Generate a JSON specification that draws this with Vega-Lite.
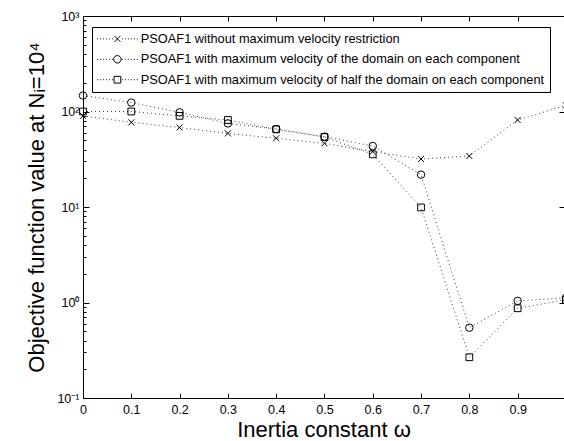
{
  "$schema": "https://vega.github.io/schema/vega-lite/v6.json",
  "width": 481,
  "height": 382,
  "autosize": {"type": "none"},
  "padding": {"left": 83, "top": 16, "right": 0, "bottom": 43},
  "background": "white",
  "config": {
    "view": {"stroke": "black", "strokeWidth": 1},
    "font": "Liberation Sans",
    "axis": {"domainColor": "black", "tickColor": "black", "labelColor": "black", "titleColor": "black", "labelFont": "Liberation Sans", "titleFont": "Liberation Sans", "grid": false, "titleFontWeight": "normal", "domainWidth": 1, "tickWidth": 1}
  },
  "data": {"values": [
    {"w": 0, "v": 90, "s": "PSOAF1 without maximum velocity restriction"},
    {"w": 0.1, "v": 77, "s": "PSOAF1 without maximum velocity restriction"},
    {"w": 0.2, "v": 68, "s": "PSOAF1 without maximum velocity restriction"},
    {"w": 0.3, "v": 59, "s": "PSOAF1 without maximum velocity restriction"},
    {"w": 0.4, "v": 52.4, "s": "PSOAF1 without maximum velocity restriction"},
    {"w": 0.5, "v": 46.5, "s": "PSOAF1 without maximum velocity restriction"},
    {"w": 0.6, "v": 38, "s": "PSOAF1 without maximum velocity restriction"},
    {"w": 0.7, "v": 31.8, "s": "PSOAF1 without maximum velocity restriction"},
    {"w": 0.8, "v": 34.2, "s": "PSOAF1 without maximum velocity restriction"},
    {"w": 0.9, "v": 81.5, "s": "PSOAF1 without maximum velocity restriction"},
    {"w": 1.0, "v": 116, "s": "PSOAF1 without maximum velocity restriction"},
    {"w": 0, "v": 147, "s": "PSOAF1 with maximum velocity of the domain on each component"},
    {"w": 0.1, "v": 124, "s": "PSOAF1 with maximum velocity of the domain on each component"},
    {"w": 0.2, "v": 98, "s": "PSOAF1 with maximum velocity of the domain on each component"},
    {"w": 0.3, "v": 75, "s": "PSOAF1 with maximum velocity of the domain on each component"},
    {"w": 0.4, "v": 65.6, "s": "PSOAF1 with maximum velocity of the domain on each component"},
    {"w": 0.5, "v": 54.5, "s": "PSOAF1 with maximum velocity of the domain on each component"},
    {"w": 0.6, "v": 43.5, "s": "PSOAF1 with maximum velocity of the domain on each component"},
    {"w": 0.7, "v": 21.8, "s": "PSOAF1 with maximum velocity of the domain on each component"},
    {"w": 0.8, "v": 0.545, "s": "PSOAF1 with maximum velocity of the domain on each component"},
    {"w": 0.9, "v": 1.04, "s": "PSOAF1 with maximum velocity of the domain on each component"},
    {"w": 1.0, "v": 1.12, "s": "PSOAF1 with maximum velocity of the domain on each component"},
    {"w": 0, "v": 100, "s": "PSOAF1 with maximum velocity of half the domain on each component"},
    {"w": 0.1, "v": 100, "s": "PSOAF1 with maximum velocity of half the domain on each component"},
    {"w": 0.2, "v": 90, "s": "PSOAF1 with maximum velocity of half the domain on each component"},
    {"w": 0.3, "v": 81.5, "s": "PSOAF1 with maximum velocity of half the domain on each component"},
    {"w": 0.4, "v": 65, "s": "PSOAF1 with maximum velocity of half the domain on each component"},
    {"w": 0.5, "v": 54, "s": "PSOAF1 with maximum velocity of half the domain on each component"},
    {"w": 0.6, "v": 35.6, "s": "PSOAF1 with maximum velocity of half the domain on each component"},
    {"w": 0.7, "v": 9.9, "s": "PSOAF1 with maximum velocity of half the domain on each component"},
    {"w": 0.8, "v": 0.267, "s": "PSOAF1 with maximum velocity of half the domain on each component"},
    {"w": 0.9, "v": 0.87, "s": "PSOAF1 with maximum velocity of half the domain on each component"},
    {"w": 1.0, "v": 1.07, "s": "PSOAF1 with maximum velocity of half the domain on each component"}
  ]},
  "layer": [
    {
      "mark": {"type": "line", "stroke": "#222", "strokeWidth": 0.9, "strokeDash": [1, 3]},
      "encoding": {
        "x": {"field": "w", "type": "quantitative", "scale": {"domain": [0, 0.996], "nice": false, "zero": false},
          "axis": {"orient": "top", "values": [0, 0.1, 0.2, 0.3, 0.4, 0.5, 0.6, 0.7, 0.8, 0.9], "labels": false, "title": null, "tickSize": -5, "domain": false}},
        "y": {"field": "v", "type": "quantitative", "scale": {"type": "log", "domain": [0.1, 1000], "nice": false},
          "axis": {"orient": "right", "values": [0.1, 1, 10, 100, 1000], "labels": false, "title": null, "tickSize": -5, "domain": false}},
        "detail": {"field": "s"}
      }
    },
    {
      "mark": {"type": "point", "filled": false, "stroke": "black", "strokeWidth": 1, "size": 56, "opacity": 1},
      "encoding": {
        "x": {"field": "w", "type": "quantitative", "scale": {"domain": [0, 0.996], "nice": false, "zero": false},
          "axis": {"orient": "bottom", "values": [0, 0.1, 0.2, 0.3, 0.4, 0.5, 0.6, 0.7, 0.8, 0.9], "labelExpr": "format(datum.value, '.1~f')", "labelFontSize": 12.5, "tickSize": -5, "labelPadding": 10, "labelFlush": false, "labelOverlap": false, "title": "Inertia constant ω", "titleFontSize": 22, "titlePadding": 4}},
        "y": {"field": "v", "type": "quantitative", "scale": {"type": "log", "domain": [0.1, 1000], "nice": false},
          "axis": {"orient": "left",
            "values": [0.1, 1, 10, 100, 1000],
            "labelExpr": "datum.value == 1000 ? '10³' : datum.value == 100 ? '10²' : datum.value == 10 ? '10¹' : datum.value == 1 ? '10⁰' : '10⁻¹'",
            "ticks": false,
            "labelFontSize": 12.5, "labelPadding": 4, "labelFlush": false, "labelOverlap": false, "labelAlign": "right",
            "title": "Objective function value at Nᵢ=10⁴", "titleFontSize": 22, "titlePadding": 8}},
        "shape": {"field": "s", "type": "nominal",
          "scale": {"domain": ["PSOAF1 without maximum velocity restriction", "PSOAF1 with maximum velocity of the domain on each component", "PSOAF1 with maximum velocity of half the domain on each component"],
            "range": ["M-0.8,-0.8L0.8,0.8M0.8,-0.8L-0.8,0.8", "circle", "M-0.9,-0.9H0.9V0.9H-0.9Z"]},
          "legend": null}
      }
    },
    {
      "transform": [{"filter": "false"}],
      "mark": {"type": "point", "filled": false, "stroke": "black", "strokeWidth": 1, "size": 56},
      "encoding": {
        "x": {"field": "w", "type": "quantitative", "scale": {"domain": [0, 0.996], "nice": false, "zero": false}, "axis": null},
        "y": {"field": "v", "type": "quantitative", "scale": {"type": "log", "domain": [0.1, 1000], "nice": false},
          "axis": {"orient": "left", "values": [0.1, 1, 10, 100, 1000], "labels": false, "title": null, "tickSize": -6, "domain": false}},
        "shape": {"field": "s", "type": "nominal",
          "scale": {"domain": ["PSOAF1 without maximum velocity restriction", "PSOAF1 with maximum velocity of the domain on each component", "PSOAF1 with maximum velocity of half the domain on each component"],
            "range": [
              "M-5.4,0h0.25M-4.6,0h0.25M-3.8,0h0.25M-3,0h0.25M-2.2,0h0.25M-1.4,0h0.25M1.2,0h0.25M2,0h0.25M2.8,0h0.25M3.6,0h0.25M4.4,0h0.25M5.2,0h0.25M-0.8,-0.8L0.8,0.8M0.8,-0.8L-0.8,0.8",
              "M-5.4,0h0.25M-4.6,0h0.25M-3.8,0h0.25M-3,0h0.25M-2.2,0h0.25M-1.4,0h0.25M1.2,0h0.25M2,0h0.25M2.8,0h0.25M3.6,0h0.25M4.4,0h0.25M5.2,0h0.25M1,0A1,1,0,1,1,-1,0A1,1,0,1,1,1,0Z",
              "M-5.4,0h0.25M-4.6,0h0.25M-3.8,0h0.25M-3,0h0.25M-2.2,0h0.25M-1.4,0h0.25M1.2,0h0.25M2,0h0.25M2.8,0h0.25M3.6,0h0.25M4.4,0h0.25M5.2,0h0.25M-0.9,-0.9H0.9V0.9H-0.9Z"]},
          "legend": {"title": null, "orient": "none", "legendX": 9, "legendY": 11, "direction": "vertical",
            "strokeColor": "black", "fillColor": "white", "padding": 5.5, "cornerRadius": 0,
            "labelFont": "Liberation Sans", "labelFontSize": 12.8, "labelColor": "black", "labelLimit": 600,
            "symbolSize": 56, "symbolStrokeWidth": 1, "symbolStrokeColor": "black", "symbolFillColor": "transparent", "symbolOpacity": 1,
            "symbolOffset": 13.5, "labelOffset": 17, "rowPadding": 6.4}}
      }
    },
    {
      "transform": [{"filter": "false"}],
      "mark": {"type": "point", "filled": false},
      "encoding": {
        "x": {"field": "w", "type": "quantitative", "scale": {"domain": [0, 0.996], "nice": false, "zero": false}, "axis": null},
        "y": {"field": "v", "type": "quantitative", "scale": {"type": "log", "domain": [0.1, 1000], "nice": false},
          "axis": {"orient": "left", "values": [0.2, 0.3, 0.4, 0.5, 0.6, 0.7, 0.8, 0.9, 2, 3, 4, 5, 6, 7, 8, 9, 20, 30, 40, 50, 60, 70, 80, 90, 200, 300, 400, 500, 600, 700, 800, 900], "labels": false, "title": null, "tickSize": -3, "domain": false}}
      }
    }
  ],
  "resolve": {"axis": {"x": "independent", "y": "independent"}, "scale": {"shape": "independent"}}
}
